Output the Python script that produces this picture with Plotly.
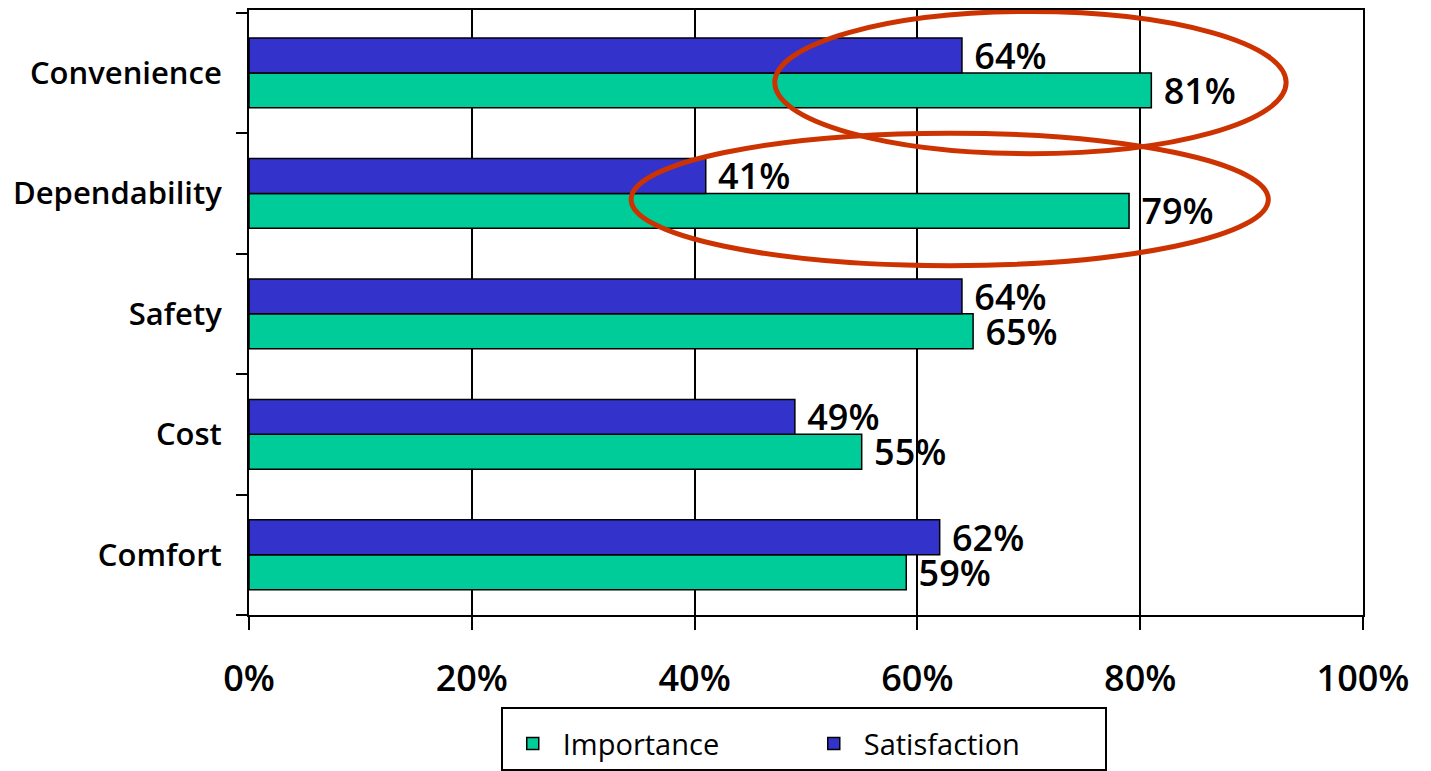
import plotly.graph_objects as go

categories = ["Comfort", "Cost", "Safety", "Dependability", "Convenience"]
importance = [59, 55, 65, 79, 81]
satisfaction = [62, 49, 64, 41, 64]
x_ticks = [0, 20, 40, 60, 80, 100]

FONT = "Open Sans"
NBSP = "\u00a0"

fig = go.Figure()
fig.add_trace(go.Bar(
    y=categories, x=importance, orientation="h", name="Importance",
    marker=dict(color="#00CC99", line=dict(color="black", width=1.5)),
    text=[f"{NBSP}{v}%" for v in importance], textposition="outside",
    constraintext="none", cliponaxis=False,
    textfont=dict(family=FONT, size=36, color="black", weight=600),
))
fig.add_trace(go.Bar(
    y=categories, x=satisfaction, orientation="h", name="Satisfaction",
    marker=dict(color="#3333CC", line=dict(color="black", width=1.5)),
    text=[f"{NBSP}{v}%" for v in satisfaction], textposition="outside",
    constraintext="none", cliponaxis=False,
    textfont=dict(family=FONT, size=36, color="black", weight=600),
))

# highlight ellipses
fig.add_shape(type="circle", xref="x", yref="y", x0=47.2, x1=93.1, y0=3.33, y1=4.51,
              line=dict(color="#CC3300", width=5))
fig.add_shape(type="circle", xref="x", yref="y", x0=34.3, x1=91.5, y0=2.40, y1=3.50,
              line=dict(color="#CC3300", width=5))
# top frame line of the plot area
fig.add_shape(type="line", xref="paper", yref="paper", x0=0, x1=1, y0=1, y1=1,
              line=dict(color="black", width=2))

fig.update_layout(
    width=1431, height=771,
    margin=dict(l=241, r=76, t=1, b=164, autoexpand=False),
    paper_bgcolor="white", plot_bgcolor="white",
    barmode="group", bargap=0.42, bargroupgap=0,
    font=dict(family=FONT, color="black"),
    showlegend=True,
    legend=dict(
        orientation="h", x=0.226, y=-0.152, xanchor="left", yanchor="top",
        bordercolor="black", borderwidth=2, bgcolor="white",
        font=dict(family=FONT, size=29, color="black", weight=500),
        title=dict(text=NBSP, side="top", font=dict(size=7)),
        itemwidth=50, entrywidth=236, entrywidthmode="pixels",
        traceorder="normal",
    ),
    xaxis=dict(
        range=[0, 100], tickvals=x_ticks, ticktext=[f"{t}%" for t in x_ticks],
        showgrid=True, gridcolor="black", gridwidth=1.5,
        showline=True, linecolor="black", linewidth=2, mirror=True,
        ticks="outside", ticklen=13, tickwidth=1.5, tickcolor="black",
        tickfont=dict(family=FONT, size=36, color="black", weight=600),
        ticklabelstandoff=18, zeroline=False,
    ),
    yaxis=dict(
        categoryorder="array", categoryarray=categories,
        showline=True, linecolor="black", linewidth=2, mirror=True,
        ticks="outside", ticklen=11, tickwidth=1.5, tickcolor="black",
        tickson="boundaries", showgrid=False,
        tickfont=dict(family=FONT, size=31, color="black", weight=600),
        ticklabelstandoff=19,
    ),
)

fig.write_html("out.html")
